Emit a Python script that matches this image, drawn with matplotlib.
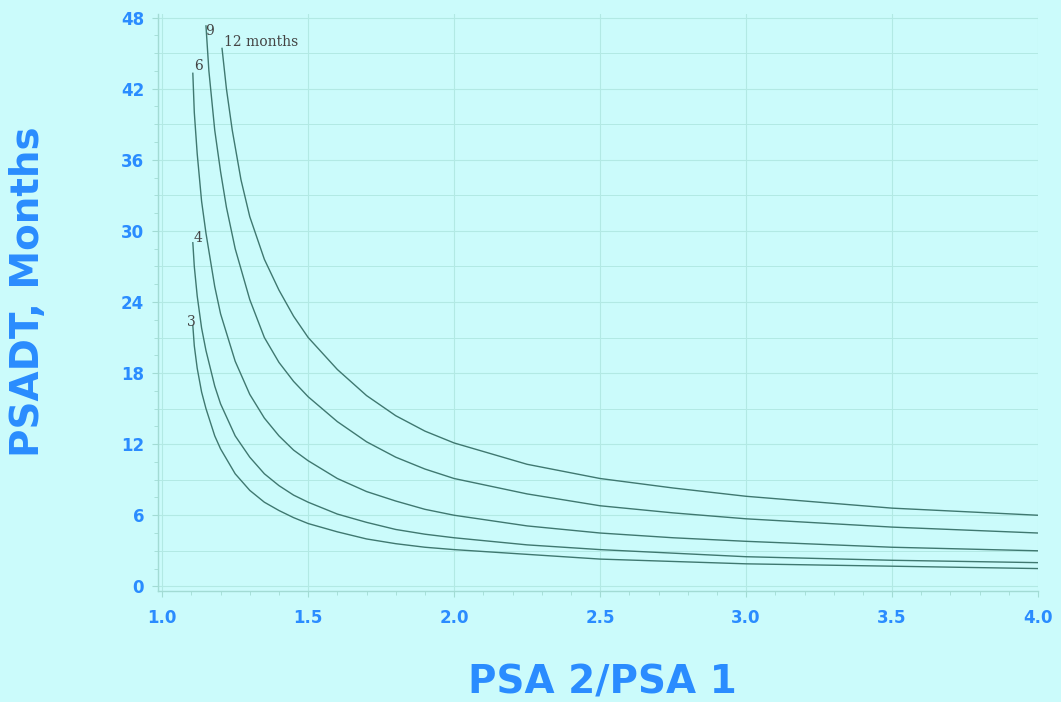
import matplotlib.pyplot as plt
from matplotlib.ticker import MultipleLocator

# valores (razao PSA2/PSA1 -> PSADT em meses)
x_3 = [1.105, 1.11, 1.12, 1.135, 1.15, 1.18, 1.2, 1.25, 1.3, 1.35, 1.4, 1.45, 1.5, 1.6, 1.7, 1.8, 1.9, 2.0, 2.25, 2.5, 2.75, 3.0, 3.5, 4.0]
y_3 = [22.0, 20.3, 18.4, 16.4, 15.0, 12.7, 11.6, 9.5, 8.1, 7.1, 6.4, 5.8, 5.3, 4.6, 4.0, 3.6, 3.3, 3.1, 2.7, 2.3, 2.1, 1.9, 1.7, 1.5]

x_4 = [1.105, 1.11, 1.12, 1.135, 1.15, 1.18, 1.2, 1.25, 1.3, 1.35, 1.4, 1.45, 1.5, 1.6, 1.7, 1.8, 1.9, 2.0, 2.25, 2.5, 2.75, 3.0, 3.5, 4.0]
y_4 = [29.0, 27.0, 24.5, 21.8, 19.9, 16.9, 15.4, 12.7, 10.9, 9.5, 8.5, 7.7, 7.1, 6.1, 5.4, 4.8, 4.4, 4.1, 3.5, 3.1, 2.8, 2.5, 2.2, 2.0]

x_6 = [1.105, 1.11, 1.12, 1.135, 1.15, 1.18, 1.2, 1.25, 1.3, 1.35, 1.4, 1.45, 1.5, 1.6, 1.7, 1.8, 1.9, 2.0, 2.25, 2.5, 2.75, 3.0, 3.5, 4.0]
y_6 = [43.3, 40.0, 36.5, 32.5, 29.8, 25.3, 23.0, 19.0, 16.2, 14.2, 12.7, 11.5, 10.6, 9.1, 8.0, 7.2, 6.5, 6.0, 5.1, 4.5, 4.1, 3.8, 3.3, 3.0]

x_9 = [1.15, 1.16, 1.18, 1.2, 1.22, 1.25, 1.3, 1.35, 1.4, 1.45, 1.5, 1.6, 1.7, 1.8, 1.9, 2.0, 2.25, 2.5, 2.75, 3.0, 3.5, 4.0]
y_9 = [47.3, 43.5, 38.5, 35.0, 32.0, 28.5, 24.2, 21.0, 18.9, 17.3, 16.0, 13.9, 12.2, 10.9, 9.9, 9.1, 7.8, 6.8, 6.2, 5.7, 5.0, 4.5]

x_12 = [1.205, 1.22, 1.24, 1.27, 1.3, 1.35, 1.4, 1.45, 1.5, 1.6, 1.7, 1.8, 1.9, 2.0, 2.25, 2.5, 2.75, 3.0, 3.5, 4.0]
y_12 = [45.4, 42.0, 38.5, 34.3, 31.2, 27.6, 25.0, 22.8, 21.0, 18.3, 16.1, 14.4, 13.1, 12.1, 10.3, 9.1, 8.3, 7.6, 6.6, 6.0]

rotulos = ["3", "4", "6", "9", "12 months"]
rotulo_x = [1.085, 1.109, 1.109, 1.147, 1.212]
rotulo_y = [22.3, 29.4, 43.9, 46.9, 45.9]

fundo = "#cbfbfb"
azul = "#2a8cff"
cor_linha = "#3f7870"
cor_grade = "#b2e9e4"

fig = plt.figure(figsize=(10.61, 7.02), dpi=100, facecolor=fundo)
ax = fig.add_axes([0.149, 0.158, 0.8294, 0.822])
ax.set_facecolor(fundo)

for xs, ys in [(x_3, y_3), (x_4, y_4), (x_6, y_6), (x_9, y_9), (x_12, y_12)]:
    ax.plot(xs, ys, color=cor_linha, lw=1.0, zorder=3)

for t, tx, ty in zip(rotulos, rotulo_x, rotulo_y):
    ax.text(tx, ty, t, fontsize=10, family="DejaVu Serif", color="#444444",
            ha="left", va="center", zorder=4)

ax.set_xlim(0.986, 4.0)
ax.set_ylim(-0.4, 48.3)
ax.xaxis.set_major_locator(MultipleLocator(0.5))
ax.xaxis.set_minor_locator(MultipleLocator(0.1))
ax.yaxis.set_major_locator(MultipleLocator(6))
ax.yaxis.set_minor_locator(MultipleLocator(1.5))

ax.grid(True, which="major", color=cor_grade, lw=0.8, zorder=0)
for yy in range(3, 48, 6):
    ax.axhline(yy, color=cor_grade, lw=0.7, zorder=0)

for lado in ["top", "right"]:
    ax.spines[lado].set_visible(False)
for lado in ["left", "bottom"]:
    ax.spines[lado].set_color("#a2dbd4")
    ax.spines[lado].set_linewidth(1.0)

ax.tick_params(which="both", colors="#a2dbd4", direction="out")
ax.tick_params(which="major", length=4, labelcolor=azul, labelsize=12)
ax.tick_params(axis="y", which="major", pad=6)
ax.tick_params(axis="x", which="major", pad=9)
ax.tick_params(which="minor", length=3)
ax.xaxis.set_major_formatter(plt.FormatStrFormatter("%.1f"))
ax.yaxis.set_major_formatter(plt.FormatStrFormatter("%d"))
for lbl in ax.get_xticklabels() + ax.get_yticklabels():
    lbl.set_fontweight("bold")

ax.set_xlabel("PSA 2/PSA 1", fontsize=28, fontweight="bold", color=azul)
ax.set_ylabel("PSADT, Months", fontsize=28, fontweight="bold", color=azul)
ax.xaxis.set_label_coords(0.505, -0.159)
ax.yaxis.set_label_coords(-0.148, 0.518)
ax.xaxis.label.set_va("center")
ax.yaxis.label.set_va("center")

fig.savefig("out.png", dpi=100, facecolor=fundo)
